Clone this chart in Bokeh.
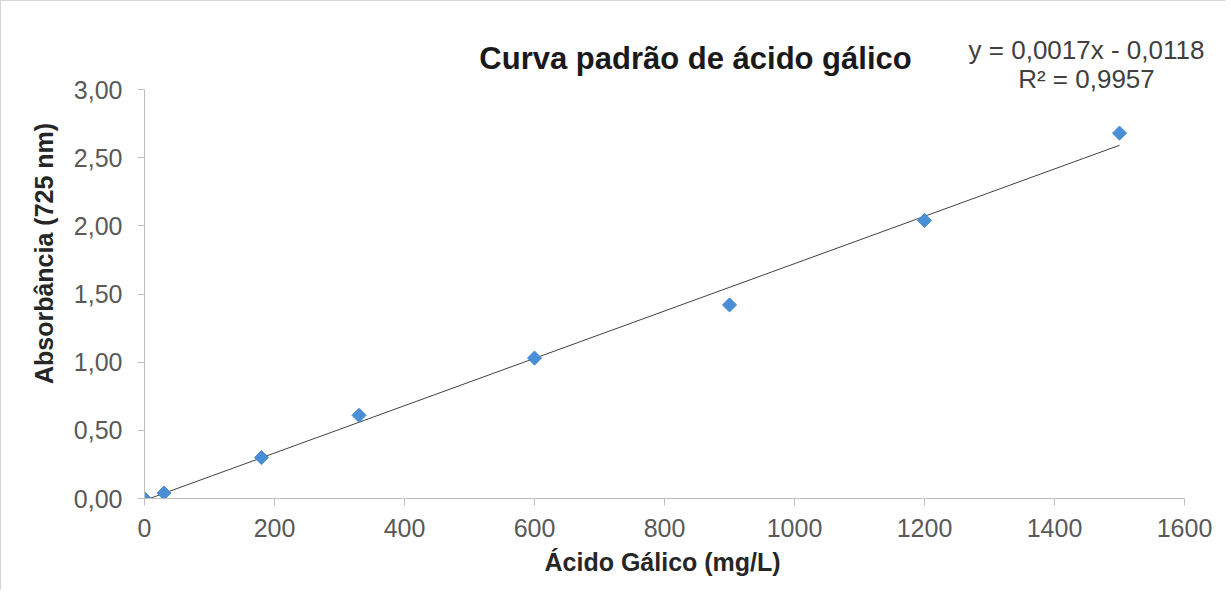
import numpy as np
from bokeh.plotting import figure
from bokeh.models import Label, FixedTicker, Range1d, Title
from bokeh.embed import file_html
from bokeh.resources import INLINE

# data
acido_galico = [0, 30, 180, 330, 600, 900, 1200, 1500]
absorbancia = [0.00, 0.04, 0.30, 0.61, 1.03, 1.42, 2.04, 2.68]
y_ticks = [0.0, 0.5, 1.0, 1.5, 2.0, 2.5, 3.0]
y_tick_labels = ["0,00", "0,50", "1,00", "1,50", "2,00", "2,50", "3,00"]
x_ticks = [0, 200, 400, 600, 800, 1000, 1200, 1400, 1600]
title_text = "Curva padrão de ácido gálico"
eq_text = "y = 0,0017x - 0,0118"
r2_text = "R² = 0,9957"
x_label = "Ácido Gálico (mg/L)"
y_label = "Absorbância  (725 nm)"

FONT = "Liberation Sans"
W, H = 1225, 590
FL, FR, FB = 143, 1183, 497      # axis left / right end / bottom (canvas px)
Y_TOP_PX = 88                    # pixel row of value 3.00
px_per_y = (FB - Y_TOP_PX) / 3.0
px_per_x = (FR - FL) / 1600.0
y_max = FB / px_per_y            # frame reaches the canvas top; axis bounded to 0..3
x_max = (W - FL) / px_per_x      # frame reaches the canvas right; axis bounded to 0..1600


def dx(px):
    return (px - FL) / px_per_x


def dy(py):
    return (FB - py) / px_per_y


p = figure(width=W, height=H, output_backend="svg", toolbar_location=None,
           x_range=Range1d(0, x_max), y_range=Range1d(0, y_max),
           min_border_left=FL, min_border_right=0, min_border_top=0,
           min_border_bottom=H - FB)
p.styles = {"border-left": "1px solid #d4d4d4", "border-top": "1px solid #d4d4d4"}
p.outline_line_color = None
p.grid.grid_line_color = None
p.background_fill_color = "white"
p.border_fill_color = "white"

for ax in (p.xaxis[0], p.yaxis[0]):
    ax.axis_line_color = "#bfbfbf"
    ax.major_tick_line_color = "#bfbfbf"
    ax.minor_tick_line_color = None
    ax.major_tick_in = 0
    ax.major_tick_out = 7
    ax.major_label_text_font = FONT
    ax.major_label_text_font_size = "25px"
    ax.major_label_text_color = "#595959"
    ax.axis_label_text_font = FONT
    ax.axis_label_text_font_size = "25px"
    ax.axis_label_text_font_style = "bold"
    ax.axis_label_text_color = "#262626"

p.yaxis[0].ticker = FixedTicker(ticks=y_ticks)
p.yaxis[0].bounds = (0, 3.0)
p.yaxis[0].major_label_overrides = {t: l for t, l in zip(y_ticks, y_tick_labels)}
p.yaxis[0].major_label_standoff = 15
p.yaxis[0].axis_label = y_label
p.yaxis[0].axis_label_standoff = 13

p.xaxis[0].ticker = FixedTicker(ticks=x_ticks)
p.xaxis[0].bounds = (0, 1600)
p.xaxis[0].major_label_standoff = 13

# x-axis title, centred under the 0..1600 axis (not under the wider frame)
p.add_layout(Title(text=x_label, align="left", offset=543 - FL, standoff=12,
                   text_font=FONT, text_font_size="25px", text_font_style="bold",
                   text_color="#262626"), "below")

# trendline from least squares
slope, intercept = np.polyfit(acido_galico, absorbancia, 1)
tx = [min(acido_galico), max(acido_galico)]
ty = [slope * v + intercept for v in tx]
p.line(tx, ty, line_color="#404040", line_width=1)

p.scatter(acido_galico, absorbancia, marker="square", angle=np.pi / 4, size=10,
          fill_color="#4a8fd6", line_color="#4a8fd6")

p.add_layout(Label(x=dx(694), y=dy(57), text=title_text, text_font=FONT,
                   text_font_size="31px", text_font_style="bold", text_color="#1a1a1a",
                   text_align="center", text_baseline="middle"))
p.add_layout(Label(x=dx(1085), y=dy(48), text=eq_text, text_font=FONT,
                   text_font_size="26px", text_color="#404040",
                   text_align="center", text_baseline="middle"))
p.add_layout(Label(x=dx(1085), y=dy(77), text=r2_text, text_font=FONT,
                   text_font_size="26px", text_color="#404040",
                   text_align="center", text_baseline="middle"))

open("out.html", "w").write(file_html(p, INLINE))
